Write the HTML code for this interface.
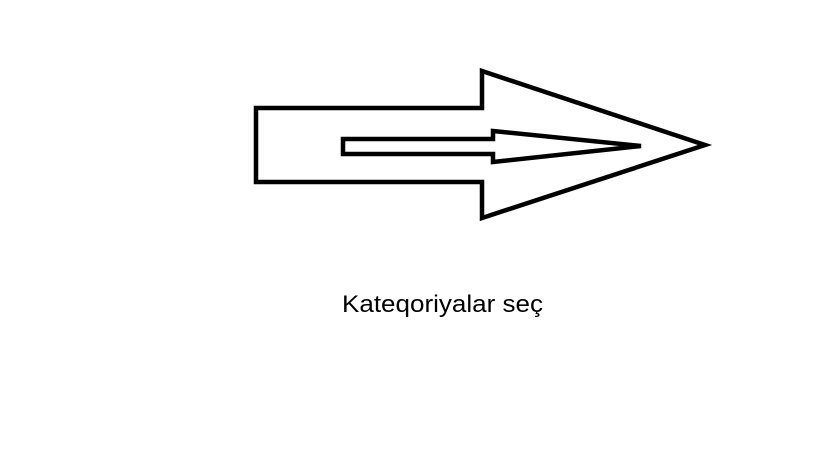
<!DOCTYPE html>
<html><head><meta charset="utf-8"><style>html,body{margin:0;padding:0;background:#fff;width:819px;height:460px;overflow:hidden}</style></head>
<body>
<svg width="819" height="460" viewBox="0 0 819 460" xmlns="http://www.w3.org/2000/svg">
<rect width="819" height="460" fill="#fff"/>
<polygon points="256,108 482,108 482,71 705,145 482,218 482,182 256,182" fill="none" stroke="#000" stroke-width="4.5" stroke-linejoin="miter"/>
<polygon points="343,139 493,139 493,131 641,146 493,162 493,154 343,154" fill="none" stroke="#000" stroke-width="4.5" stroke-linejoin="miter"/>
<text x="342" y="312" font-family="Liberation Sans, DejaVu Sans, sans-serif" font-size="24" fill="#000" textLength="201" lengthAdjust="spacingAndGlyphs">Kateqoriyalar seç</text>
</svg>
</body></html>
